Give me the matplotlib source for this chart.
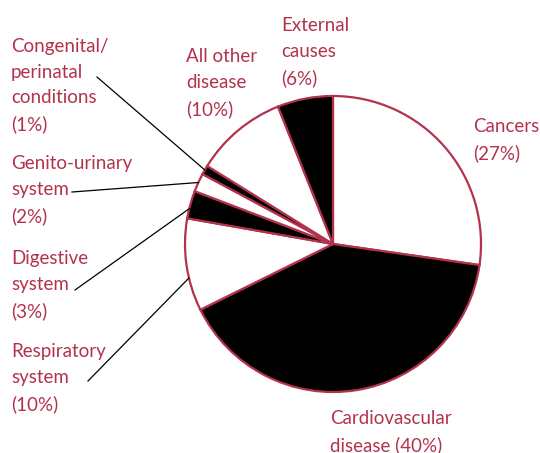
import numpy as np
import matplotlib
matplotlib.use("Agg")
import matplotlib.pyplot as plt

# causes of death, clockwise from 12 o'clock
causes = ["Cancers", "Cardiovascular disease", "Respiratory system", "Digestive system",
          "Genito-urinary system", "Congenital/perinatal conditions", "All other disease",
          "External causes"]
shares = [27, 40, 10, 3, 2, 1, 10, 6]
fills = ["white", "black", "white", "black", "white", "black", "white", "black"]

labels = ["Cancers\n(27%)", "Cardiovascular\ndisease (40%)", "Respiratory\nsystem\n(10%)",
          "Digestive\nsystem\n(3%)", "Genito-urinary\nsystem\n(2%)",
          "Congenital/\nperinatal\nconditions\n(1%)", "All other\ndisease\n(10%)",
          "External\ncauses\n(6%)"]

plt.rcParams['font.family'] = ['Lato', 'DejaVu Sans']
red = '#b3324d'
W, H = 540, 453

fig = plt.figure(figsize=(5.4, 4.53), dpi=100)
ax = fig.add_axes([0, 0, 1, 1])

cx, cy, r = 333, H - 244, 148
wedges, _ = ax.pie(shares, colors=fills, startangle=90, counterclock=False,
                   center=(cx, cy), radius=r, frame=True,
                   wedgeprops=dict(edgecolor=red, linewidth=1.6))
ax.set_xlim(0, W)
ax.set_ylim(0, H)
ax.axis('off')

# label top-left positions (pixels from top-left)
pos = [(473, 118), (330, 410), (11, 343), (11, 250), (11, 155), (11, 38), (186, 48), (281, 17)]
# leader line starts for the small slices, and where along the slice they end
leaders = {2: ((88, 381), 0.64), 3: ((75, 290), 0.65), 4: ((72, 192), 0.5), 5: ((97, 77), 0.5)}

for i, w in enumerate(wedges):
    x, y = pos[i]
    ax.text(x, H - y, labels[i], color=red, fontsize=13.5, ha='left', va='top', linespacing=1.62)
    if i in leaders:
        (lx, ly), f = leaders[i]
        a = np.deg2rad(w.theta1 + f * (w.theta2 - w.theta1))
        px, py = cx + r * np.cos(a), cy + r * np.sin(a)
        ax.plot([lx, px], [H - ly, py], color='black', lw=0.9)

fig.savefig("out.png", dpi=100)
